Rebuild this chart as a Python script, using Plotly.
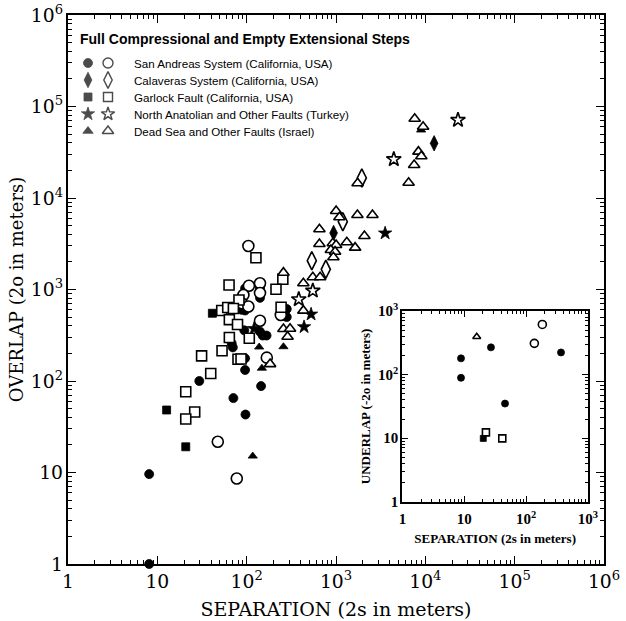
import plotly.graph_objects as go

# ---------------- data ----------------
# San Andreas System
sa_filled_x = [8.1, 8.1, 29.5, 71, 97, 96, 96, 145, 68, 70, 94, 141, 151, 167, 281, 281, 96, 141, 141, 88, 96]
sa_filled_y = [1.0, 9.6, 100, 65, 43, 132, 177, 88, 258, 233, 358, 346, 314, 314, 612, 500, 1030, 1030, 810, 600, 590]
sa_open_x = [104.5, 106, 141, 141, 92, 88, 104.5, 241, 141, 168, 47.5, 77.5]
sa_open_y = [2990, 1100, 1170, 916, 871, 707, 652, 526, 456, 180, 21.7, 8.6]
# Calaveras System
cal_filled_x = [12540, 940]
cal_filled_y = [39600, 4145]
cal_open_x = [1945, 1192, 536, 769]
cal_open_y = [16550, 5510, 2064, 1663]
# Garlock Fault
gar_filled_x = [12.7, 20.8, 41.3]
gar_filled_y = [48.2, 19.1, 550]
gar_open_x = [127, 254, 63.5, 213, 82, 52.6, 61.4, 71, 64, 79, 243, 107, 64, 53, 31.3, 80, 86.5, 39.6, 20.8, 26.2, 20.8]
gar_open_y = [2227, 1292, 1120, 1005, 768, 589, 636, 620, 469, 414, 639, 293, 299, 214, 188, 173, 174, 121, 76.4, 45.8, 38.4]
# North Anatolian and Other Faults
na_filled_x = [3548, 526, 439, 121]
na_filled_y = [4125, 536, 390, 373]
na_open_x = [23200, 4436, 550, 383]
na_open_y = [71200, 26500, 970, 781]
# Dead Sea and Other Faults
ds_filled_x = [8970, 138, 258, 148, 117, 953]
ds_filled_y = [55300, 235, 237, 138, 15.1, 3142]
ds_open_x = [7600, 9440, 8370, 9020, 7500, 6500, 1745, 1003, 1092, 1737, 2560, 652, 652, 921, 1003,
             875, 977, 935, 1321, 1637, 2080, 258, 431, 550, 664, 431, 258, 306, 287, 183]
ds_open_y = [73400, 60100, 32100, 28600, 22950, 14700, 14480, 7210, 6150, 6520, 6520, 4550, 3140, 3200, 3065,
             2700, 2590, 2250, 3280, 2865, 3845, 1527, 1170, 1360, 1360, 587, 370, 372, 305, 153]

# Inset: underlap
in_sa_filled_x = [27, 8.85, 8.85, 367, 45.6]
in_sa_filled_y = [268, 180, 89, 223, 35]
in_sa_open_x = [136, 183]
in_sa_open_y = [310, 615]
in_gar_filled_x = [20.3]
in_gar_filled_y = [9.9]
in_gar_open_x = [22.4, 41.2]
in_gar_open_y = [12.3, 9.9]
in_ds_open_x = [15.9]
in_ds_open_y = [393]

# legend content
legend_title = "Full Compressional and Empty Extensional Steps"
legend_labels = [
    "San Andreas System (California, USA)",
    "Calaveras System (California, USA)",
    "Garlock Fault (California, USA)",
    "North Anatolian and Other Faults (Turkey)",
    "Dead Sea and Other Faults (Israel)",
]
legend_symbols = ["circle", "diamond-tall", "square", "star", "triangle-up"]
legend_filled_sizes = [9, 11, 8, 10, 9]
legend_open_sizes = [10, 12, 9, 10, 10]

SERIF = "DejaVu Serif, Liberation Serif, serif"
SERIF_B = "Liberation Serif, DejaVu Serif, serif"
SANS = "Liberation Sans, Arial, sans-serif"

fig = go.Figure()


def add(x, y, symbol, size, filled, xa="x", ya="y"):
    fig.add_trace(go.Scatter(
        x=x, y=y, mode="markers", showlegend=False,
        xaxis=xa, yaxis=ya, cliponaxis=False, hoverinfo="x+y",
        marker=dict(symbol=symbol, size=size,
                    color="black" if filled else "white",
                    line=dict(color="black", width=0.8 if filled else 1.6)),
    ))


# main plot: filled first, open on top
add(sa_filled_x, sa_filled_y, "circle", 9, True)
add(cal_filled_x, cal_filled_y, "diamond-tall", 11, True)
add(gar_filled_x, gar_filled_y, "square", 8, True)
add(na_filled_x, na_filled_y, "star", 10, True)
add(ds_filled_x, ds_filled_y, "triangle-up", 8, True)

add(sa_open_x, sa_open_y, "circle", 11, False)
add(cal_open_x, cal_open_y, "diamond-tall", 13, False)
add(gar_open_x, gar_open_y, "square", 10, False)
add(na_open_x, na_open_y, "star", 11, False)
add(ds_open_x, ds_open_y, "triangle-up", 10, False)

# inset
add(in_sa_filled_x, in_sa_filled_y, "circle", 7, True, xa="x2", ya="y2")
add(in_gar_filled_x, in_gar_filled_y, "square", 6, True, xa="x2", ya="y2")
add(in_sa_open_x, in_sa_open_y, "circle", 8, False, xa="x2", ya="y2")
add(in_gar_open_x, in_gar_open_y, "square", 7, False, xa="x2", ya="y2")
add(in_ds_open_x, in_ds_open_y, "triangle-up", 7, False, xa="x2", ya="y2")

# ---- legend block drawn on a hidden overlay axis (pixel-like layout units) ----
LEG_TITLE_Y, LEG_ROW0, LEG_DY = 24, 48, 17.0   # offsets from plot top
COL_TITLE, COL_FILLED, COL_OPEN, COL_TEXT = 10, 20, 40, 64
rows = [LEG_ROW0 + i * LEG_DY for i in range(len(legend_labels))]
for i, sym in enumerate(legend_symbols):
    fig.add_trace(go.Scatter(
        x=[COL_FILLED, COL_OPEN], y=[rows[i], rows[i]], mode="markers",
        showlegend=False, hoverinfo="skip", xaxis="x3", yaxis="y3", cliponaxis=False,
        marker=dict(symbol=sym, size=[legend_filled_sizes[i], legend_open_sizes[i]],
                    color=["black", "white"],
                    line=dict(color="black", width=[0.8, 1.4])),
    ))
annotations = [dict(x=COL_TITLE, y=LEG_TITLE_Y, xref="x3", yref="y3", text="<b>" + legend_title + "</b>",
                    showarrow=False, xanchor="left", yanchor="middle",
                    font=dict(family=SANS, size=14, color="black"))]
for i, lab in enumerate(legend_labels):
    annotations.append(dict(x=COL_TEXT, y=rows[i], xref="x3", yref="y3", text=lab,
                            showarrow=False, xanchor="left", yanchor="middle",
                            font=dict(family=SANS, size=11.6, color="black")))


def log_axis(rng, ticklen, minorlen, lw, ffam, fsize, title, tsize, standoff, bold=False, **kw):
    return dict(
        type="log", range=rng, dtick=1, exponentformat="power",
        ticks="inside", ticklen=ticklen, tickwidth=1.3, tickcolor="black",
        showline=True, linewidth=lw, linecolor="black", mirror="ticks",
        showgrid=False, zeroline=False, automargin=False,
        minor=dict(ticks="inside", ticklen=minorlen, tickwidth=1, dtick="D1",
                   showgrid=False, tickcolor="black"),
        tickfont=dict(family=ffam, size=fsize, color="black",
                      weight="bold" if bold else "normal"),
        title=dict(text=title, standoff=standoff,
                   font=dict(family=ffam, size=tsize, color="black",
                             weight="bold" if bold else "normal")),
        **kw,
    )


fig.update_layout(
    width=626, height=621,
    margin=dict(l=68, r=22, t=15, b=57),
    paper_bgcolor="white", plot_bgcolor="white",
    showlegend=False,
    annotations=annotations,
    xaxis=log_axis([0, 6], 8, 4, 2, SERIF, 15, "SEPARATION (2s in meters)", 19, 12),
    yaxis=log_axis([0, 6], 8, 4, 2, SERIF, 15, "OVERLAP (2o in meters)", 18, 2),
    xaxis2=log_axis([0, 3], 6, 3, 1.5, SERIF_B, 12, "SEPARATION (2s in meters)", 13, 8, bold=True,
                    domain=[0.624, 0.970], anchor="y2", ticklabelstandoff=3),
    yaxis2=log_axis([0, 3], 6, 3, 1.5, SERIF_B, 12, "UNDERLAP (-2o in meters)", 13, 5, bold=True,
                    domain=[0.1135, 0.4608], anchor="x2"),
    xaxis3=dict(range=[0, 536], domain=[0, 1], anchor="y3", overlaying="x", visible=False),
    yaxis3=dict(range=[549, 0], domain=[0, 1], anchor="x3", overlaying="y", visible=False),
)

fig.write_html("out.html")
